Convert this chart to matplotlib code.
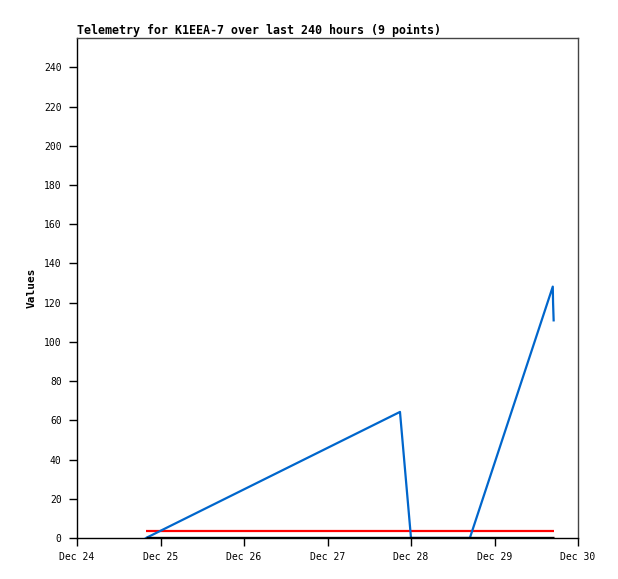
import matplotlib
matplotlib.use("Agg")
import matplotlib.pyplot as plt
import matplotlib.dates as mdates
from datetime import datetime

# Data
times = ["2023-12-24 19:50", "2023-12-27 20:50", "2023-12-28 00:00",
         "2023-12-28 08:00", "2023-12-28 12:00", "2023-12-28 16:55",
         "2023-12-29 16:45", "2023-12-29 16:50", "2023-12-29 17:00"]
values = [0, 64.3, 0, 0, 0, 0, 128.2, 120, 111]
limit_value = 3.7
zero_value = 0
x_ticks = ["2023-12-24", "2023-12-25", "2023-12-26", "2023-12-27",
           "2023-12-28", "2023-12-29", "2023-12-30"]
y_ticks = [0, 20, 40, 60, 80, 100, 120, 140, 160, 180, 200, 220, 240]
title = "Telemetry for K1EEA-7 over last 240 hours (9 points)"

t = [datetime.strptime(s, "%Y-%m-%d %H:%M") for s in times]
xt = [datetime.strptime(s, "%Y-%m-%d") for s in x_ticks]

plt.rcParams['font.family'] = ['DejaVu Sans Mono']
fig = plt.figure(figsize=(6.18, 5.79), dpi=100)
ax = fig.add_axes([77/618, 41/579, 501/618, 500/579])

ax.plot([t[0], t[-1]], [limit_value, limit_value], color="#ff0000", lw=1.6,
        solid_capstyle="butt", zorder=3)
ax.plot(t, values, color="#0066cc", lw=1.6, zorder=4)
ax.plot([t[0], t[-1]], [zero_value, zero_value], color="black", lw=2.4,
        solid_capstyle="butt", zorder=5)

ax.set_xlim(xt[0], xt[-1])
ax.set_ylim(0, 255)
ax.set_xticks(xt)
ax.xaxis.set_major_formatter(mdates.DateFormatter("%b %d"))
ax.set_yticks(y_ticks)
ax.tick_params(axis="both", labelsize=7, direction="out", length=6, width=1, colors="black")
ax.tick_params(axis="x", pad=4)
ax.tick_params(axis="y", pad=5)

for s in ["top", "right"]:
    ax.spines[s].set_color("#444444")
    ax.spines[s].set_linewidth(1)
for s in ["left", "bottom"]:
    ax.spines[s].set_color("black")
    ax.spines[s].set_linewidth(1)

ax.set_title(title, loc="left", fontsize=8.35, fontweight="bold", pad=3)
ax.set_ylabel("Values", fontsize=8, fontweight="bold", labelpad=5)

fig.savefig("out.png", dpi=100)
